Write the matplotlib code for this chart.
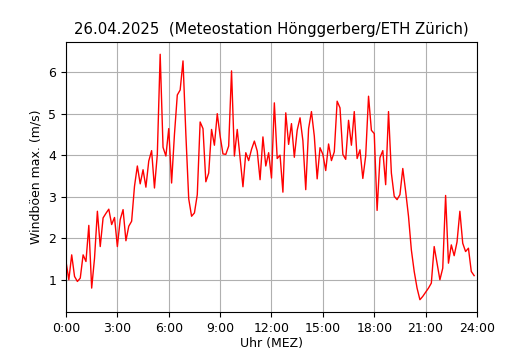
import numpy as np
import matplotlib
matplotlib.use('Agg')
import matplotlib.pyplot as plt

# Windböen max. (m/s), 10-Minuten-Werte ab 0:00
boeen = [1.44, 1.00, 1.60, 1.08, 0.96, 1.04, 1.60, 1.44, 2.31, 0.80,
         1.52, 2.65, 1.80, 2.49, 2.60, 2.70, 2.33, 2.50, 1.80, 2.45,
         2.69, 1.94, 2.29, 2.41, 3.25, 3.74, 3.31, 3.65, 3.23, 3.86,
         4.11, 3.21, 4.02, 6.43, 4.19, 3.98, 4.64, 3.33, 4.50, 5.45,
         5.57, 6.27, 4.50, 2.95, 2.53, 2.61, 3.05, 4.80, 4.64, 3.36,
         3.57, 4.62, 4.24, 5.00, 4.46, 4.03, 4.02, 4.22, 6.03, 3.98,
         4.62, 3.94, 3.24, 4.06, 3.87, 4.14, 4.34, 4.10, 3.41, 4.44,
         3.74, 4.06, 3.45, 5.26, 3.92, 4.00, 3.11, 5.02, 4.26, 4.76,
         3.95, 4.60, 4.90, 4.35, 3.17, 4.64, 5.05, 4.46, 3.43, 4.18,
         4.02, 3.63, 4.27, 3.87, 4.08, 5.30, 5.14, 4.02, 3.90, 4.84,
         4.24, 5.05, 3.92, 4.13, 3.44, 3.98, 5.42, 4.60, 4.52, 2.67,
         3.94, 4.11, 3.29, 5.05, 3.57, 3.01, 2.93, 3.05, 3.68, 3.13,
         2.53, 1.72, 1.20, 0.80, 0.52, 0.60, 0.70, 0.80, 0.92, 1.80,
         1.40, 1.00, 1.28, 3.03, 1.40, 1.84, 1.58, 1.91, 2.65, 1.88,
         1.68, 1.76, 1.20, 1.10]
stunden = np.arange(len(boeen)) * 10 / 60

tick_pos = list(range(0, 25, 3))
tick_labels = ['%d:00' % h for h in tick_pos]

fig = plt.figure(figsize=(5.3, 3.5), dpi=100)
ax = fig.add_axes([0.1245, 0.1086, 0.7755, 0.7714])

ax.plot(stunden, boeen, color='red', linewidth=1)
ax.set_xlim(0, 24)
ax.set_xticks(tick_pos)
ax.set_xticklabels(tick_labels)
ax.grid(True, color='#b0b0b0')
ax.set_axisbelow(True)

ax.set_title('26.04.2025  (Meteostation Hönggerberg/ETH Zürich)', fontsize=10.7)
ax.set_xlabel('Uhr (MEZ)', fontsize=9, labelpad=2)
ax.set_ylabel('Windböen max. (m/s)', fontsize=9)
ax.tick_params(labelsize=9)

plt.savefig('out.png', dpi=100)
